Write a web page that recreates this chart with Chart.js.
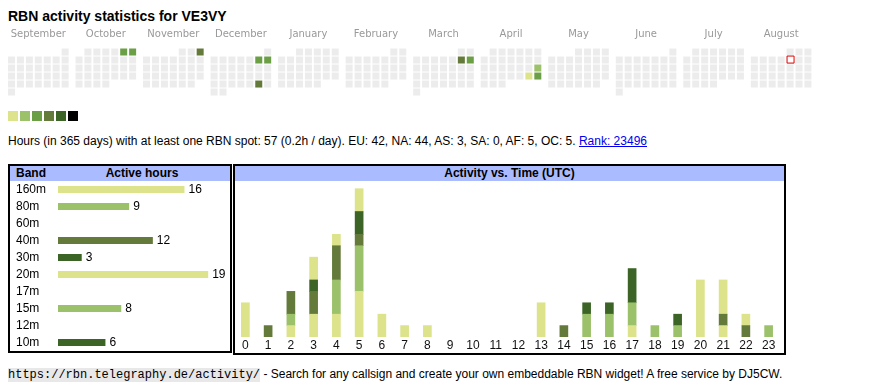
<!DOCTYPE html>
<html lang="en">
<head>
  <meta charset="UTF-8" />
  <title>RBN activity statistics for VE3VY</title>
  <script src="https://cdn.jsdelivr.net/npm/chart.js"></script>
  <style>
    body {
      margin: 0;
      font-family: "Liberation Sans", Arial, sans-serif;
      color: #000;
      background: #fff;
    }

    h2 {
      position: absolute;
      left: 8px;
      top: 8px;
      margin: 0;
      font-size: 14px;
      line-height: 16px;
    }

    .legend {
      position: absolute;
      top: 111px;
      width: 10px;
      height: 10px;
    }

    #summary {
      position: absolute;
      left: 8px;
      top: 134px;
      font-size: 12px;
      line-height: 14px;
      white-space: nowrap;
    }

    #summary a { color: #0000ee; }

    .box {
      position: absolute;
      top: 164px;
      border: 2px solid #000;
      box-sizing: border-box;
    }

    .head {
      position: absolute;
      top: 166px;
      height: 15px;
      background: #aabbff;
      font-size: 12px;
      font-weight: bold;
      line-height: 15px;
    }

    .head span { position: absolute; top: 0; }

    #footer {
      position: absolute;
      left: 8px;
      top: 366px;
      font-size: 12px;
      line-height: 16px;
      white-space: nowrap;
    }

    #footer code {
      font-family: "Liberation Mono", "Courier New", monospace;
      font-size: 12px;
      background: #e8e8e8;
    }

    canvas { position: absolute; }
  </style>
</head>
<body>
  <h2>RBN activity statistics for VE3VY</h2>

  <canvas id="calendar" width="870" height="78" style="left:0; top:24px;"></canvas>
  <div id="legendRow"></div>

  <div id="summary">Hours (in 365 days) with at least one RBN spot: 57 (0.2h / day). EU: 42, NA: 44, AS: 3, SA: 0, AF: 5, OC: 5. <a href="#">Rank: 23496</a></div>

  <div class="box" style="left:8px; width:224px; height:189px;"></div>
  <div class="head" style="left:10px; width:220px;">
    <span style="left:6px;">Band</span>
    <span style="left:44px; width:176px; text-align:center;">Active hours</span>
  </div>
  <canvas id="bandChart" width="220" height="170" style="left:10px; top:181px;"></canvas>

  <div class="box" style="left:233px; width:553px; height:191px;"></div>
  <div class="head" style="left:235px; width:549px; text-align:center;">Activity vs. Time (UTC)</div>
  <canvas id="hourChart" width="546" height="172" style="left:234px; top:181px;"></canvas>

  <div id="footer"><code>https://rbn.telegraphy.de/activity/</code> - Search for any callsign and create your own embeddable RBN widget! A free service by DJ5CW.</div>

  <script>
    // activity levels (legend / calendar)
    const levelColors = ['#dce38a', '#9cc16b', '#6a9f45', '#647a3a', '#3b6426', '#000000'];
    const emptyColor = '#ececec';

    // calendar, Sep 2024 .. Aug 2025
    const months = ['September', 'October', 'November', 'December', 'January', 'February',
                    'March', 'April', 'May', 'June', 'July', 'August'];
    const firstYear = 2024;
    const firstMonth = 8; // September, 0-based
    const activeDays = ['2024-10-05', '2024-10-06', '2024-11-03', '2024-12-07', '2024-12-08', '2024-12-28',
                        '2025-03-08', '2025-03-09', '2025-04-20', '2025-04-26', '2025-04-27'];
    const activeLevels = [3, 3, 4, 3, 3, 4, 4, 3, 2, 1, 3];
    const today = '2025-08-08';

    // band table
    const bands = ['160m', '80m', '60m', '40m', '30m', '20m', '17m', '15m', '12m', '10m'];
    const bandHours = [16, 9, 0, 12, 3, 19, 0, 8, 0, 6];
    const bandColors = ['#dce38a', '#9cc16b', '#6a9f45', '#647a3a', '#3b6426',
                        '#dce38a', '#6a9f45', '#9cc16b', '#647a3a', '#3b6426'];

    // activity vs. time, hours per UTC hour and band
    const utcHours = ['0', '1', '2', '3', '4', '5', '6', '7', '8', '9', '10', '11',
                      '12', '13', '14', '15', '16', '17', '18', '19', '20', '21', '22', '23'];
    const hours160m = [3, 0, 1, 2, 2, 4, 2, 1, 0, 0, 0, 0, 0, 0, 0, 0, 0, 0, 0, 0, 0, 1, 0, 0];
    const hours80m  = [0, 0, 1, 0, 3, 4, 0, 0, 0, 0, 0, 0, 0, 0, 0, 0, 0, 0, 0, 0, 0, 0, 0, 1];
    const hours40m  = [0, 1, 2, 2, 3, 1, 0, 0, 0, 0, 0, 0, 0, 0, 1, 0, 0, 0, 0, 0, 0, 1, 1, 0];
    const hours30m  = [0, 0, 0, 1, 0, 2, 0, 0, 0, 0, 0, 0, 0, 0, 0, 0, 0, 0, 0, 0, 0, 0, 0, 0];
    const hours20m  = [0, 0, 0, 2, 1, 2, 0, 0, 1, 0, 0, 0, 0, 3, 0, 0, 0, 1, 0, 0, 5, 3, 1, 0];
    const hours15m  = [0, 0, 0, 0, 0, 0, 0, 0, 0, 0, 0, 0, 0, 0, 0, 2, 2, 2, 1, 1, 0, 0, 0, 0];
    const hours10m  = [0, 0, 0, 0, 0, 0, 0, 0, 0, 0, 0, 0, 0, 0, 0, 1, 1, 3, 0, 1, 0, 0, 0, 0];

    Chart.defaults.font.family = '"Liberation Sans", Arial, sans-serif';
    Chart.defaults.color = '#000';

    // legend squares
    const legendRow = document.getElementById('legendRow');
    levelColors.forEach((c, i) => {
      const s = document.createElement('div');
      s.className = 'legend';
      s.style.left = (8 + i * 12) + 'px';
      s.style.background = c;
      legendRow.appendChild(s);
    });

    // ---- calendar ----
    const MONTH_STEP = 68, CELL_STEP = 9, CELL_HALF = 3.5;
    const cellRadius = CELL_HALF * Math.SQRT2;
    const cells = [];
    const cellColors = [];
    let todayCell = null;

    months.forEach((name, m) => {
      const first = new Date(Date.UTC(firstYear, firstMonth + m, 1));
      const lead = (first.getUTCDay() + 6) % 7; // monday first
      const ndays = new Date(Date.UTC(firstYear, firstMonth + m + 1, 0)).getUTCDate();
      for (let d = 1; d <= ndays; d++) {
        const iso = new Date(Date.UTC(firstYear, firstMonth + m, d)).toISOString().slice(0, 10);
        const pos = lead + d - 1;
        const pt = { x: m * MONTH_STEP + (pos % 7) * CELL_STEP + CELL_HALF, y: Math.floor(pos / 7) };
        cells.push(pt);
        const k = activeDays.indexOf(iso);
        cellColors.push(k >= 0 ? levelColors[activeLevels[k] - 1] : emptyColor);
        if (iso === today) todayCell = pt;
      }
    });

    new Chart(document.getElementById('calendar'), {
      type: 'scatter',
      data: {
        datasets: [
          {
            data: todayCell ? [{ x: todayCell.x + 0.5, y: todayCell.y - 0.5 / CELL_STEP }] : [],
            pointStyle: 'rect',
            pointRadius: cellRadius,
            pointHoverRadius: cellRadius,
            pointBackgroundColor: '#ffffff',
            pointBorderColor: '#e00000',
            pointBorderWidth: 1,
            clip: false
          },
          {
            data: cells,
            pointStyle: 'rect',
            pointRadius: cellRadius,
            pointHoverRadius: cellRadius,
            pointBackgroundColor: cellColors,
            pointBorderWidth: 0,
            clip: false
          }
        ]
      },
      options: {
        responsive: false,
        animation: false,
        events: [],
        layout: { padding: { left: 8, right: 0, top: 0, bottom: 0 } },
        plugins: { legend: { display: false }, tooltip: { enabled: false } },
        scales: {
          x: {
            type: 'linear',
            position: 'top',
            min: 0,
            max: 862,
            grid: { display: false, drawTicks: false },
            border: { display: false },
            afterBuildTicks: s => {
              s.ticks = months.map((_, m) => ({ value: m * MONTH_STEP + 3 * CELL_STEP + CELL_HALF }));
            },
            afterFit: s => { s.height = 24; s.paddingLeft = 0; s.paddingRight = 0; },
            ticks: {
              autoSkip: false,
              maxRotation: 0,
              padding: 7.5,
              color: '#999',
              font: { family: '"DejaVu Sans", Verdana, sans-serif', size: 10 },
              callback: (v, i) => months[i]
            }
          },
          y: { display: false, reverse: true, min: -0.5, max: 5.5 }
        }
      }
    });

    // ---- band table ----
    const valueLabels = {
      id: 'valueLabels',
      afterDatasetsDraw(chart) {
        const ctx = chart.ctx;
        const meta = chart.getDatasetMeta(0);
        ctx.save();
        ctx.font = '12px "Liberation Sans", Arial, sans-serif';
        ctx.fillStyle = '#000';
        ctx.textBaseline = 'middle';
        ctx.textAlign = 'left';
        meta.data.forEach((bar, i) => {
          if (bandHours[i] > 0) ctx.fillText(String(bandHours[i]), bar.x + 4, bar.y);
        });
        ctx.restore();
      }
    };

    new Chart(document.getElementById('bandChart'), {
      type: 'bar',
      data: {
        labels: bands,
        datasets: [{
          data: bandHours.map(v => v || null),
          backgroundColor: bandColors,
          barThickness: 7,
          inflateAmount: 0,
          borderWidth: 0
        }]
      },
      options: {
        indexAxis: 'y',
        responsive: false,
        animation: false,
        events: [],
        layout: { padding: { left: 6, right: 6, top: 0, bottom: 0 } },
        plugins: { legend: { display: false }, tooltip: { enabled: false } },
        scales: {
          x: { display: false, min: 0, max: 21 },
          y: {
            grid: { display: false, drawTicks: false },
            border: { display: false },
            afterFit: s => { s.width = 42; s.paddingTop = 0; s.paddingBottom = 0; },
            ticks: { crossAlign: 'far', padding: 0, autoSkip: false, color: '#000', font: { size: 12 } }
          }
        }
      },
      plugins: [valueLabels]
    });

    // ---- activity vs. time ----
    const hourSeries = [
      { band: '160m', data: hours160m, color: '#dce38a' },
      { band: '80m',  data: hours80m,  color: '#9cc16b' },
      { band: '40m',  data: hours40m,  color: '#647a3a' },
      { band: '30m',  data: hours30m,  color: '#3b6426' },
      { band: '20m',  data: hours20m,  color: '#dce38a' },
      { band: '15m',  data: hours15m,  color: '#9cc16b' },
      { band: '10m',  data: hours10m,  color: '#3b6426' }
    ];

    new Chart(document.getElementById('hourChart'), {
      type: 'bar',
      data: {
        labels: utcHours,
        datasets: hourSeries.map(s => ({
          label: s.band,
          data: s.data.map(v => v || null),
          backgroundColor: s.color,
          barThickness: 8,
          borderWidth: 0
        }))
      },
      options: {
        responsive: false,
        animation: false,
        events: [],
        layout: { padding: { left: 0, right: 0, top: 2, bottom: 0 } },
        plugins: { legend: { display: false }, tooltip: { enabled: false } },
        scales: {
          x: {
            stacked: true,
            grid: { display: false, drawTicks: false },
            border: { display: false },
            afterFit: s => { s.height = 16; s.paddingLeft = 0; s.paddingRight = 0; },
            ticks: { padding: 1, color: '#111', font: { size: 12 }, autoSkip: false, maxRotation: 0 }
          },
          y: { stacked: true, display: false, min: 0, max: 13.5 }
        }
      }
    });
  </script>
</body>
</html>
